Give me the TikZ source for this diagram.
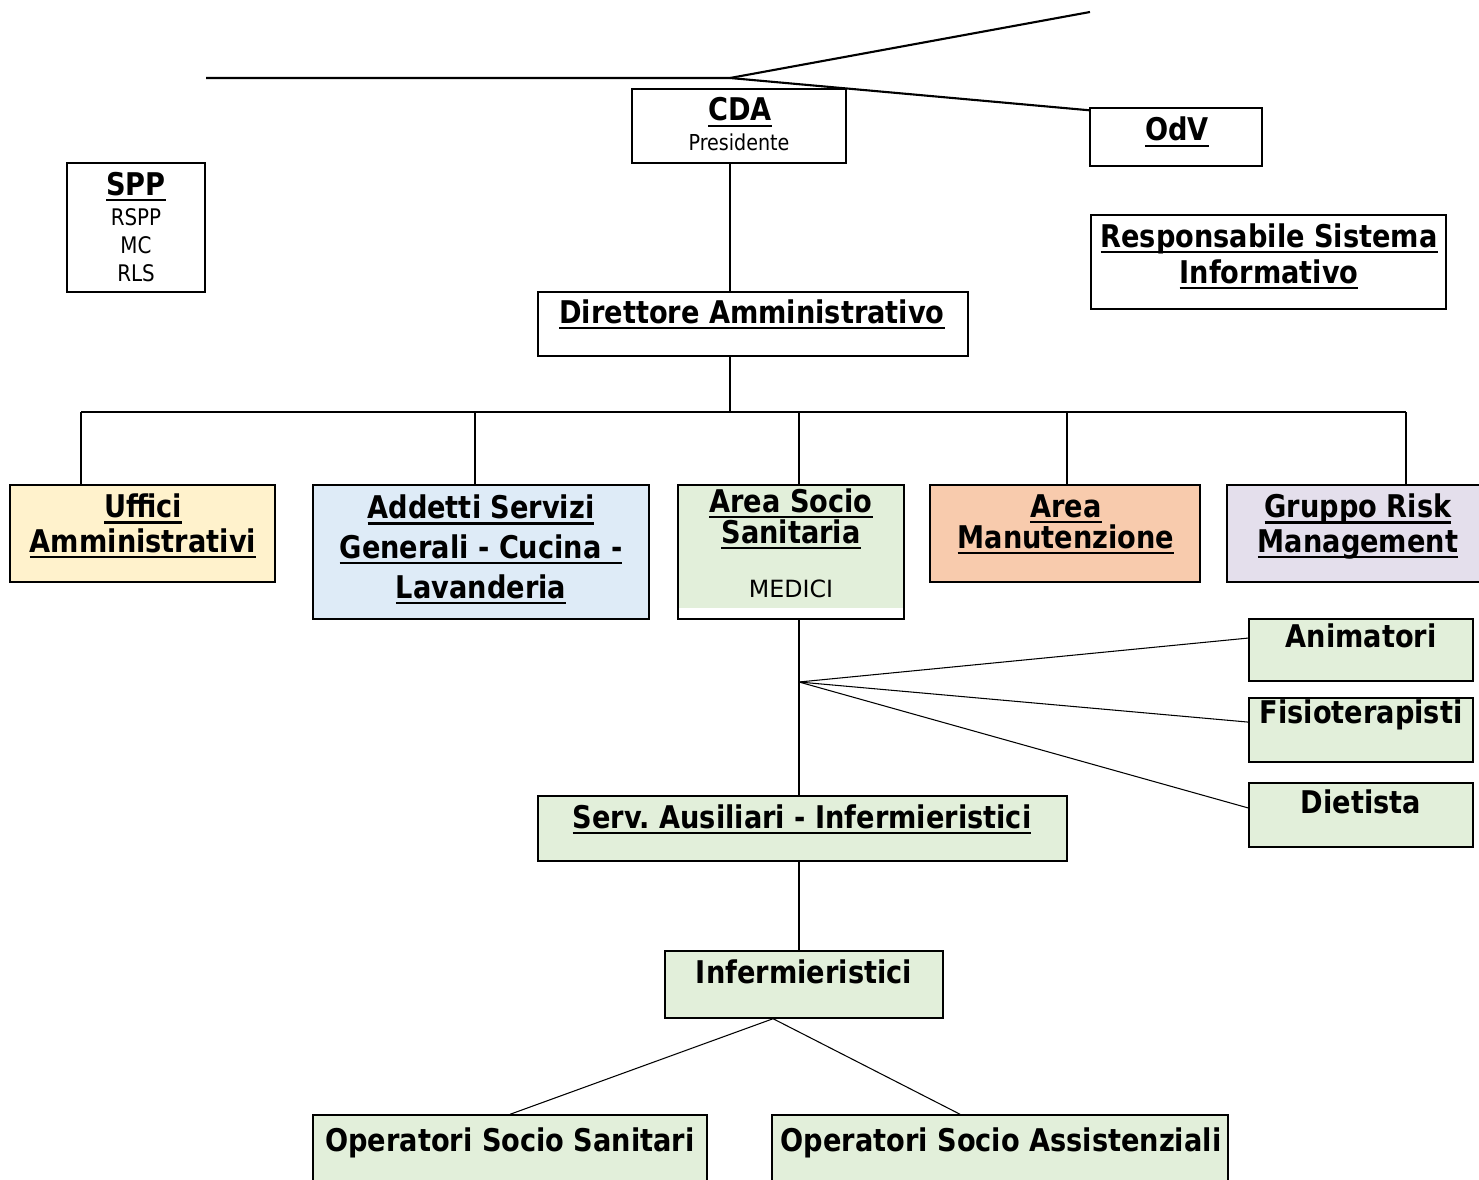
\documentclass[tikz,border=0pt]{standalone}
\usepackage{fontspec}
\setmainfont{DejaVu Sans}[FakeStretch=0.87]
\newfontfamily\widefont{DejaVu Sans}
\usetikzlibrary{fit}
\frenchspacing

% sottolineatura spessa
\newcommand{\ulin}[1]{\setbox0\hbox{#1}\rlap{\rule[-3.6pt]{\wd0}{1.6pt}}\box0}

\definecolor{uffcol}{HTML}{FFF2CC}
\definecolor{addcol}{HTML}{DEEBF7}
\definecolor{asscol}{HTML}{E2EFDA}
\definecolor{mancol}{HTML}{F8CBAD}
\definecolor{grmcol}{HTML}{E4DFEC}

\tikzset{
  box/.style={draw, line width=0.8pt, inner sep=0pt},
  ttl/.style={font=\bfseries\fontsize{17.8}{#1}\selectfont, align=center, inner sep=0pt, anchor=base},
  ttl/.default=20,
  sub/.style={font=\fontsize{#1}{15.9}\selectfont, align=center, inner sep=0pt, anchor=base},
  sub/.default=12.5,
  link/.style={line width=0.6pt},
  toplink/.style={line width=1.2pt}
}

\begin{document}
\begin{tikzpicture}[x=0.02cm,y=-0.02cm]
\useasboundingbox (0,0) rectangle (1479,1179);

% vertice
\node[box, fit={(632,89)(846,163)}] (cda) {};
\node[ttl] (cdaT) at (740,121) {\ulin{CDA}};
\node[sub] (cdaS) at (739,151) {Presidente};

\node[box, fit={(1090,108)(1262,166)}] (odv) {};
\node[ttl] (odvT) at (1177,141) {\ulin{OdV}};

\node[box, fit={(67,163)(205,292)}] (spp) {};
\node[ttl] (sppT) at (136,195) {\ulin{SPP}};
\node[sub=13] (sppS) at (136,281) {RSPP\\MC\\RLS};

\node[box, fit={(1091,215)(1446,309)}] (rsi) {};
\node[ttl=20.4] (rsiT) at (1269,283) {\ulin{Responsabile Sistema}\\\ulin{Informativo}};

\node[box, fit={(538,292)(968,356)}] (dir) {};
\node[ttl] (dirT) at (752,323) {\ulin{Direttore Amministrativo}};

% aree
\node[box, fill=uffcol, fit={(10,485)(275,582)}] (uff) {};
\node[ttl=19.8] (uffT) at (143,552) {\ulin{Uffici}\\\ulin{Amministrativi}};

\node[box, fill=addcol, fit={(313,485)(649,619)}] (add) {};
\node[ttl=22.7] (addT) at (481,598) {\ulin{Addetti Servizi}\\\ulin{Generali - Cucina -}\\\ulin{Lavanderia}};

\node[box, fill=asscol, fit={(678,485)(904,619)},
  path picture={\fill[white] (path picture bounding box.south west) rectangle ([yshift=6.2pt]path picture bounding box.south east);}] (ass) {};
\node[ttl=17.6] (assT) at (791,543) {\ulin{Area Socio}\\\ulin{Sanitaria}};
\node[font=\widefont\fontsize{13.5}{16}\selectfont, inner sep=0pt, anchor=base] (assS) at (791,597) {MEDICI};

\node[box, fill=mancol, fit={(930,485)(1200,582)}] (man) {};
\node[ttl=17.6] (manT) at (1066,548) {\ulin{Area}\\\ulin{Manutenzione}};

\node[box, fill=grmcol, fit={(1227,485)(1500,582)}] (grm) {};
\node[ttl=19.8] (grmT) at (1358,552) {\ulin{Gruppo Risk}\\\ulin{Management}};

% figure sanitarie
\node[box, fill=asscol, fit={(1249,619)(1473,681)}] (ani) {};
\node[ttl] (aniT) at (1361,647) {Animatori};

\node[box, fill=asscol, fit={(1249,698)(1473,762)}] (fis) {};
\node[ttl] (fisT) at (1361,723) {Fisioterapisti};

\node[box, fill=asscol, fit={(1249,783)(1473,847)}] (die) {};
\node[ttl] (dieT) at (1361,813) {Dietista};

\node[box, fill=asscol, fit={(538,796)(1067,861)}] (serv) {};
\node[ttl] (servT) at (802,828) {\ulin{Serv. Ausiliari - Infermieristici}};

\node[box, fill=asscol, fit={(665,951)(943,1018)}] (inf) {};
\node[ttl] (infT) at (804,983) {Infermieristici};

\node[box, fill=asscol, fit={(313,1115)(707,1195)}] (oss) {};
\node[ttl] (ossT) at (510,1151) {Operatori Socio Sanitari};

\node[box, fill=asscol, fit={(772,1115)(1228,1195)}] (osa) {};
\node[ttl] (osaT) at (1001,1151) {Operatori Socio Assistenziali};

% collegamenti
\coordinate (topL) at (206,78);
\coordinate (topJ) at (730,78);
\coordinate (topR) at (1090,12);
\draw[toplink] (topL) -- (topJ) -- (topR);
\draw[toplink] (topJ) -- ([yshift=-1.7pt]odv.north west);

\coordinate (spine) at (730,412);
\draw[link] (cda.south -| spine) -- (dir.north -| spine);
\draw[link] (dir.south -| spine) -- (spine);
\coordinate (busL) at (81,412);
\coordinate (busR) at (1406,412);
\draw[link] (busL) -- (busR);
\foreach \n/\x in {uff/81, add/475, ass/799, man/1067, grm/1406}{
  \coordinate (d\n) at (\x,412);
  \draw[link] (d\n) -- (d\n |- \n.north);
}

\coordinate (hub) at (799,682);
\draw[link] (ass.south -| hub) -- (serv.north -| hub);
\draw[link] (hub) -- ([yshift=6.8pt]ani.west);
\draw[link] (hub) -- ([yshift=4.5pt]fis.west);
\draw[link] (hub) -- ([yshift=4pt]die.west);
\draw[link] (serv.south -| hub) -- (inf.north -| hub);
\draw[link] ([xshift=-17.6pt]inf.south) -- (oss.north);
\draw[link] ([xshift=-17.6pt]inf.south) -- ([xshift=-22.7pt]osa.north);

\end{tikzpicture}
\end{document}
